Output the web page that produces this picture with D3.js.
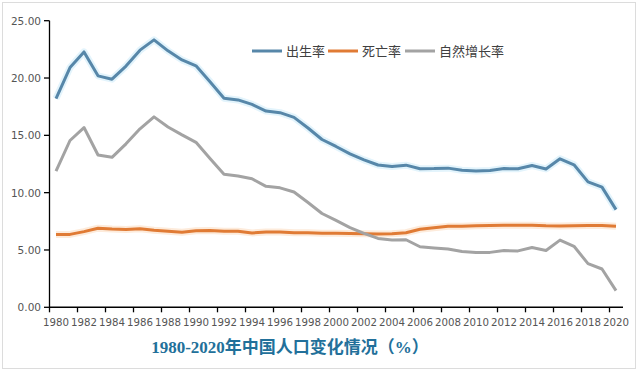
<!DOCTYPE html>
<html>
<head>
<meta charset="utf-8">
<script src="https://cdn.jsdelivr.net/npm/d3@7"></script>
<style>
  body { margin: 0; background: #fff; }
  .tick-label { font-family: "DejaVu Sans", sans-serif; font-size: 10.5px; fill: #555; }
  .legend-label { font-family: "Noto Sans CJK SC", sans-serif; font-size: 13px; fill: #404040; }
  .chart-title { font-family: "Liberation Serif", "Noto Sans CJK SC", serif; font-size: 17px; font-weight: bold; fill: #22709a; }
</style>
</head>
<body>
<div id="chart"></div>
<script>
// years
const YEARS = d3.range(1980, 2021);

// series values (per mille)
const BIRTH = [18.21, 20.91, 22.28, 20.19, 19.9, 21.04, 22.43, 23.33, 22.37, 21.58,
  21.06, 19.68, 18.24, 18.09, 17.7, 17.12, 16.98, 16.57, 15.64, 14.64,
  14.03, 13.38, 12.86, 12.41, 12.29, 12.4, 12.09, 12.1, 12.14, 11.95,
  11.9, 11.93, 12.1, 12.08, 12.37, 12.07, 12.95, 12.43, 10.94, 10.48, 8.52];
const DEATH = [6.34, 6.36, 6.6, 6.9, 6.82, 6.78, 6.86, 6.72, 6.64, 6.54,
  6.67, 6.7, 6.64, 6.64, 6.49, 6.57, 6.56, 6.51, 6.5, 6.46,
  6.45, 6.43, 6.41, 6.4, 6.42, 6.51, 6.81, 6.93, 7.06, 7.08,
  7.11, 7.14, 7.15, 7.16, 7.16, 7.11, 7.09, 7.11, 7.13, 7.14, 7.07];
const GROWTH = [11.87, 14.55, 15.68, 13.29, 13.08, 14.26, 15.57, 16.61, 15.73, 15.04,
  14.39, 12.98, 11.6, 11.45, 11.21, 10.55, 10.42, 10.06, 9.14, 8.18,
  7.58, 6.95, 6.45, 6.01, 5.87, 5.89, 5.28, 5.17, 5.08, 4.87,
  4.79, 4.79, 4.95, 4.92, 5.21, 4.96, 5.86, 5.32, 3.81, 3.34, 1.45];

const SERIES_NAMES = ["出生率", "死亡率", "自然增长率"];
const Y_TICKS = [0, 5, 10, 15, 20, 25];
const TITLE = "1980-2020年中国人口变化情况（%）";

const COLORS = ["#5787a9", "#e07b35", "#a3a3a3"];

function drawChart() {
  const W = 640, H = 372;
  const svg = d3.select("#chart").append("svg").attr("width", W).attr("height", H);

  // faint frame
  svg.append("rect")
    .attr("x", 2.5).attr("y", 2.5).attr("width", 633).attr("height", 366)
    .attr("fill", "none").attr("stroke", "#dcdcdc");

  const x = d3.scaleBand().domain(YEARS).range([49, 623]);
  const y = d3.scaleLinear().domain([0, 25]).range([307.3, 20.7]);

  // y axis
  const yAxis = svg.append("g");
  yAxis.append("line")
    .attr("x1", 49.5).attr("x2", 49.5)
    .attr("y1", y(25)).attr("y2", y(0))
    .attr("stroke", "#000").attr("stroke-width", 1.3);
  Y_TICKS.forEach((t) => {
    yAxis.append("line")
      .attr("x1", 44).attr("x2", 49.5)
      .attr("y1", y(t)).attr("y2", y(t))
      .attr("stroke", "#000").attr("stroke-width", 1.3);
    yAxis.append("text")
      .attr("class", "tick-label")
      .attr("x", 41).attr("y", y(t) + 4)
      .attr("text-anchor", "end")
      .text(t.toFixed(2));
  });

  // x axis
  const xAxis = svg.append("g");
  xAxis.append("line")
    .attr("x1", 49).attr("x2", 623)
    .attr("y1", y(0)).attr("y2", y(0))
    .attr("stroke", "#000").attr("stroke-width", 1.5);
  YEARS.forEach((yr, i) => {
    if (i % 2 !== 0) return;
    xAxis.append("line")
      .attr("x1", x(yr) + 0.5).attr("x2", x(yr) + 0.5)
      .attr("y1", y(0)).attr("y2", y(0) + 5)
      .attr("stroke", "#000").attr("stroke-width", 1.3);
    xAxis.append("text")
      .attr("class", "tick-label")
      .attr("x", x(yr) + x.bandwidth() / 2).attr("y", y(0) + 19)
      .attr("text-anchor", "middle")
      .attr("textLength", 26).attr("lengthAdjust", "spacingAndGlyphs")
      .text(yr);
  });

  // lines
  const line = d3.line()
    .x((d, i) => x(YEARS[i]) + x.bandwidth() / 2)
    .y((d) => y(d));

  [BIRTH, DEATH, GROWTH].forEach((values, k) => {
    if (k !== 2) {
      svg.append("path")
        .attr("d", line(values))
        .attr("fill", "none")
        .attr("stroke", k === 0 ? "#e3f4fc" : "#fdebdb")
        .attr("stroke-width", 7)
        .attr("stroke-linejoin", "round");
    }
    svg.append("path")
      .attr("d", line(values))
      .attr("fill", "none")
      .attr("stroke", COLORS[k])
      .attr("stroke-width", 3)
      .attr("stroke-linejoin", "round");
  });

  // legend
  const legendX = [252, 328, 405];
  SERIES_NAMES.forEach((name, k) => {
    const lx = legendX[k];
    svg.append("line")
      .attr("x1", lx).attr("x2", lx + 30)
      .attr("y1", 51).attr("y2", 51)
      .attr("stroke", COLORS[k]).attr("stroke-width", 3);
    svg.append("text")
      .attr("class", "legend-label")
      .attr("x", lx + 34).attr("y", 56)
      .text(name);
  });

  // title
  svg.append("text")
    .attr("class", "chart-title")
    .attr("x", 290).attr("y", 353)
    .attr("text-anchor", "middle")
    .text(TITLE);
}

drawChart();
</script>
</body>
</html>
